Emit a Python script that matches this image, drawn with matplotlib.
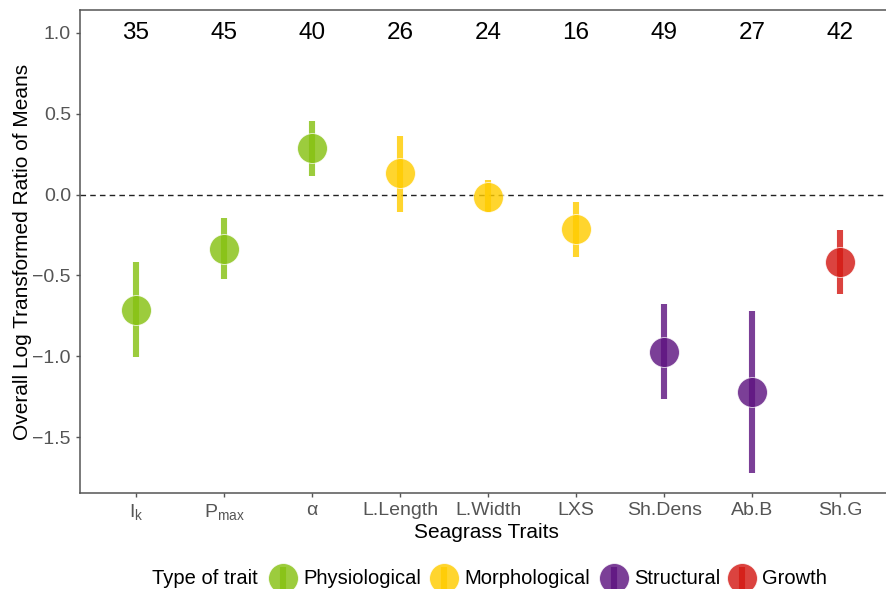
import numpy as np
import matplotlib
matplotlib.use("Agg")
import matplotlib.pyplot as plt
from matplotlib.lines import Line2D

plt.rcParams['font.family'] = ['Liberation Sans', 'DejaVu Sans']
plt.rcParams['mathtext.fontset'] = 'custom'
plt.rcParams['mathtext.rm'] = 'Liberation Sans'
plt.rcParams['mathtext.it'] = 'Liberation Sans'

# data
traits = [r'$\mathregular{I_k}$', r'$\mathregular{P_{max}}$', r'$\alpha$',
          'L.Length', 'L.Width', 'LXS', 'Sh.Dens', 'Ab.B', 'Sh.G']
means = [-0.715, -0.335, 0.29, 0.135, -0.012, -0.21, -0.975, -1.222, -0.42]
lower = [-1.005, -0.52, 0.118, -0.105, -0.11, -0.383, -1.265, -1.722, -0.617]
upper = [-0.42, -0.142, 0.457, 0.364, 0.093, -0.043, -0.679, -0.722, -0.222]
counts = [35, 45, 40, 26, 24, 16, 49, 27, 42]
types = ['Physiological', 'Physiological', 'Physiological',
         'Morphological', 'Morphological', 'Morphological',
         'Structural', 'Structural', 'Growth']

type_order = ['Physiological', 'Morphological', 'Structural', 'Growth']
type_cols = {'Physiological': '#86C112', 'Morphological': '#FFCC00',
             'Structural': '#5E1480', 'Growth': '#D41A14'}
alpha = 0.82
W, H = 886, 589

fig = plt.figure(figsize=(8.86, 5.89), dpi=100)
ax = fig.add_axes([80/W, 96/H, 813/W, 483/H])

x = np.arange(1, len(traits) + 1)
for i in range(len(traits)):
    c = type_cols[types[i]]
    ax.plot([x[i], x[i]], [lower[i], upper[i]], color=c, lw=4.4,
            alpha=alpha, solid_capstyle='butt', zorder=2)
    ax.plot(x[i], means[i], 'o', ms=21.5, color=c, alpha=alpha,
            mec='white', mew=0.6, zorder=3)
    ax.text(x[i], 1.0, str(counts[i]), ha='center', va='center',
            fontsize=17.5, color='black')

ax.axhline(0, color='#222222', lw=1, ls=(0, (4, 3)), zorder=1)

ax.set_xlim(0.364, 9.6)
ax.set_ylim(-1.846, 1.142)
ax.set_xticks(x)
ax.set_xticklabels(traits)
ax.set_yticks([-1.5, -1.0, -0.5, 0.0, 0.5, 1.0])
ax.set_yticklabels(['\u22121.5', '\u22121.0', '\u22120.5', '0.0', '0.5', '1.0'])
ax.tick_params(axis='both', colors='#555555', labelsize=14, length=3, width=1)
for lab in ax.get_xticklabels() + ax.get_yticklabels():
    lab.set_color('#555555')
for s in ['left', 'bottom', 'top']:
    ax.spines[s].set_color('#555555')
    ax.spines[s].set_linewidth(1.1)
ax.spines['right'].set_visible(False)

ax.set_xlabel('Seagrass Traits', fontsize=15, labelpad=1)
ax.set_ylabel('Overall Log Transformed Ratio of Means', fontsize=15, labelpad=0)

# legend drawn by hand: title on the same row as the keys
leg_y = 1 - 578/H
fig.text(152/W, leg_y, 'Type of trait', fontsize=14.5, va='center', ha='left')
key_x = [283, 444, 614, 742]
for t, kx in zip(type_order, key_x):
    c = type_cols[t]
    fig.add_artist(Line2D([kx/W, kx/W], [leg_y - 11/H, leg_y + 11/H],
                          transform=fig.transFigure, color=c, lw=4.4,
                          alpha=alpha, solid_capstyle='butt'))
    fig.add_artist(Line2D([kx/W], [leg_y], transform=fig.transFigure,
                          marker='o', ms=21.5, color=c, alpha=alpha,
                          mec='white', mew=0.6, lw=0))
    fig.text((kx + 20)/W, leg_y, t, fontsize=14.5, va='center', ha='left')

fig.savefig('out.png', dpi=100)
